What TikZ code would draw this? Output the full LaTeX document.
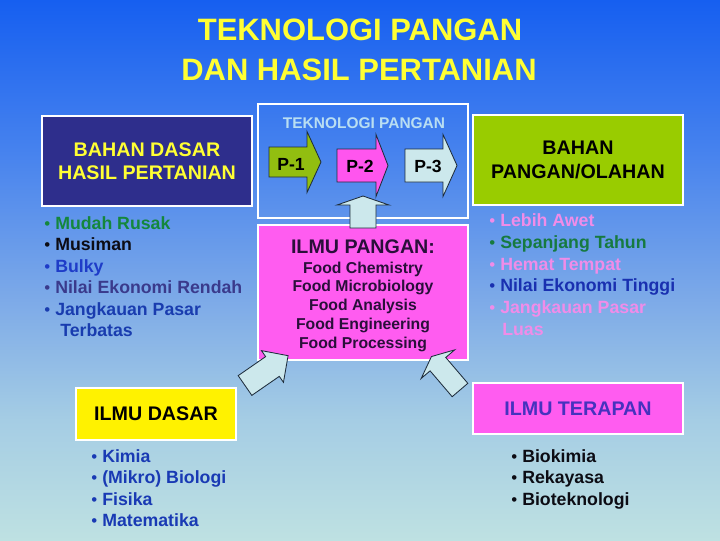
\documentclass[tikz,border=0pt]{standalone}
\usepackage{fontspec}
\setmainfont{Liberation Sans}
\definecolor{bgA}{RGB}{22,95,240}
\definecolor{bgA2}{RGB}{70,130,238}
\definecolor{bgB}{RGB}{125,170,232}
\definecolor{bgC}{RGB}{165,205,228}
\definecolor{bgD}{RGB}{190,225,226}
\definecolor{navyc}{RGB}{46,46,140}
\definecolor{ylw}{RGB}{255,255,51}
\definecolor{lime}{RGB}{153,204,0}
\definecolor{mag}{RGB}{255,92,240}
\definecolor{pgreen}{RGB}{146,190,16}
\definecolor{pmag}{RGB}{255,85,238}
\definecolor{acyan}{RGB}{204,232,236}
\definecolor{outl}{RGB}{30,45,60}
\definecolor{tplab}{RGB}{185,222,242}
\definecolor{iptc}{RGB}{42,15,58}
\definecolor{greenA}{RGB}{20,135,60}
\definecolor{blueA}{RGB}{30,60,200}
\definecolor{slateA}{RGB}{58,58,140}
\definecolor{blueB}{RGB}{25,60,175}
\definecolor{pinkA}{RGB}{240,140,232}
\definecolor{greenB}{RGB}{22,122,64}
\definecolor{blueC}{RGB}{25,48,176}
\definecolor{terap}{RGB}{70,50,190}
\definecolor{blueD}{RGB}{25,58,180}
\definecolor{blackA}{RGB}{12,12,20}
\pgfdeclareverticalshading{bgsh}{100bp}{color(0bp)=(bgD); color(25bp)=(bgD); color(36.1bp)=(bgC); color(47.2bp)=(bgB); color(61.1bp)=(bgA2); color(75bp)=(bgA); color(100bp)=(bgA)}
\newcommand\blkarrow[7]{%
  \begin{scope}[shift={(#1)},rotate=#2]
    \filldraw[fill=#7,draw=outl,line width=0.6pt,line join=miter]
      (0,-#4) -- (#3,-#4) -- (#3,-#5) -- ({#3+#6},0) -- (#3,#5) -- (#3,#4) -- (0,#4) -- cycle;
  \end{scope}}
\newcommand\bul{{\mdseries\fontsize{12}{13}\selectfont •}\hspace{3.6pt}}
\begin{document}
\begin{tikzpicture}[x=0.025cm,y=-0.025cm,
  box/.style={draw=white,line width=1.6pt,minimum width=5.25cm,inner sep=0pt,align=center,
    font=\fontsize{14}{16.7}\selectfont\bfseries},
  lst/.style={anchor=base west,inner sep=0pt,font=\fontsize{12.6}{15}\selectfont\bfseries},
  ttl/.style={anchor=base,inner sep=0pt,text=ylw,font=\fontsize{22}{26}\selectfont\bfseries},
  ipl/.style={anchor=base,inner sep=0pt,text=iptc,font=\fontsize{11.2}{13.5}\selectfont\bfseries},
  plab/.style={inner sep=0pt,text=black,font=\fontsize{12.5}{14}\selectfont\bfseries}]
\useasboundingbox (0,0) rectangle (720,540);
\shade[shading=bgsh] (0,0) rectangle (720,540);

% title
\node[ttl] (t1) at (360,40) {TEKNOLOGI PANGAN};
\node[ttl] (t2) at (359,80) {DAN HASIL PERTANIAN};

% boxes
\node[box,fill=navyc,text=ylw,minimum height=2.25cm] (bdh) at (147,161) {BAHAN DASAR\\HASIL PERTANIAN};
\node[box,minimum height=2.85cm] (tp) at (363,161) {};
\node[box,fill=mag,minimum height=3.375cm] (ip) at (363,292.5) {};
\node[box,fill=lime,text=black,minimum height=2.25cm] (bpo) at (578,160) {BAHAN\\PANGAN/OLAHAN};
\node[box,fill=yellow,text=black,minimum width=4cm,minimum height=1.3cm] (id) at (156,414) {ILMU DASAR};
\node[box,fill=mag,text=terap,minimum height=1.275cm] (it) at (578,408.5) {ILMU TERAPAN};

% teknologi pangan label
\node[anchor=base,inner sep=0pt,text=tplab,font=\fontsize{11}{13}\selectfont\bfseries] (tpl) at (364,128) {TEKNOLOGI PANGAN};

% ilmu pangan text
\node[anchor=base,inner sep=0pt,text=iptc,font=\fontsize{14}{16}\selectfont\bfseries] (ip0) at (363,253) {ILMU PANGAN:};
\node[ipl] (ip1) at (363,273) {Food Chemistry};
\node[ipl] (ip2) at (363,291.5) {Food Microbiology};
\node[ipl] (ip3) at (363,310) {Food Analysis};
\node[ipl] (ip4) at (363,329) {Food Engineering};
\node[ipl] (ip5) at (363,348) {Food Processing};

% process arrows
\coordinate (p1t) at (269,162);
\coordinate (p2t) at (337,165.5);
\coordinate (p3t) at (405,165.5);
\blkarrow{p1t}{0}{38}{15}{30.5}{14}{pgreen}
\blkarrow{p2t}{0}{39}{16.5}{31}{12}{pmag}
\blkarrow{p3t}{0}{38}{16.5}{31}{14}{acyan}
\node[plab] (p1) at (291,164) {P-1};
\node[plab] (p2) at (360,166) {P-2};
\node[plab] (p3) at (428,166) {P-3};

% connector arrows
\coordinate (upT) at (363,228);
\coordinate (ldT) at (245,385.5);
\coordinate (rdT) at (460,390);
\blkarrow{upT}{90}{23}{13}{26}{9}{acyan}
\blkarrow{ldT}{34.7}{33.4}{12}{19.3}{19}{acyan}
\blkarrow{rdT}{130.5}{34}{10.3}{22}{10}{acyan}

% left list
\node[lst,text=greenA] (l1) at (44,229) {\bul Mudah Rusak};
\node[lst,text=blackA] (l2) at (44,250.5) {\bul Musiman};
\node[lst,text=blueA] (l3) at (44,272) {\bul Bulky};
\node[lst,text=slateA] (l4) at (44,293.5) {\bul Nilai Ekonomi Rendah};
\node[lst,text=blueB] (l5) at (44,315) {\bul Jangkauan Pasar};
\node[lst,text=blueB] (l6) at (60,336.5) {Terbatas};

% right list
\node[lst,text=pinkA] (r1) at (489,226.5) {\bul Lebih Awet};
\node[lst,text=greenB] (r2) at (489,248.5) {\bul Sepanjang Tahun};
\node[lst,text=pinkA] (r3) at (489,270) {\bul Hemat Tempat};
\node[lst,text=blueC] (r4) at (489,291.5) {\bul Nilai Ekonomi Tinggi};
\node[lst,text=pinkA] (r5) at (489,313) {\bul Jangkauan Pasar};
\node[lst,text=pinkA] (r6) at (502,335) {Luas};

% ilmu dasar list
\node[lst,text=blueD] (d1) at (91,462) {\bul Kimia};
\node[lst,text=blueD] (d2) at (91,483.5) {\bul (Mikro) Biologi};
\node[lst,text=blueD] (d3) at (91,505) {\bul Fisika};
\node[lst,text=blueD] (d4) at (91,526.5) {\bul Matematika};

% ilmu terapan list
\node[lst,text=blackA] (e1) at (511,462) {\bul Biokimia};
\node[lst,text=blackA] (e2) at (511,483.5) {\bul Rekayasa};
\node[lst,text=blackA] (e3) at (511,505) {\bul Bioteknologi};
\end{tikzpicture}
\end{document}
